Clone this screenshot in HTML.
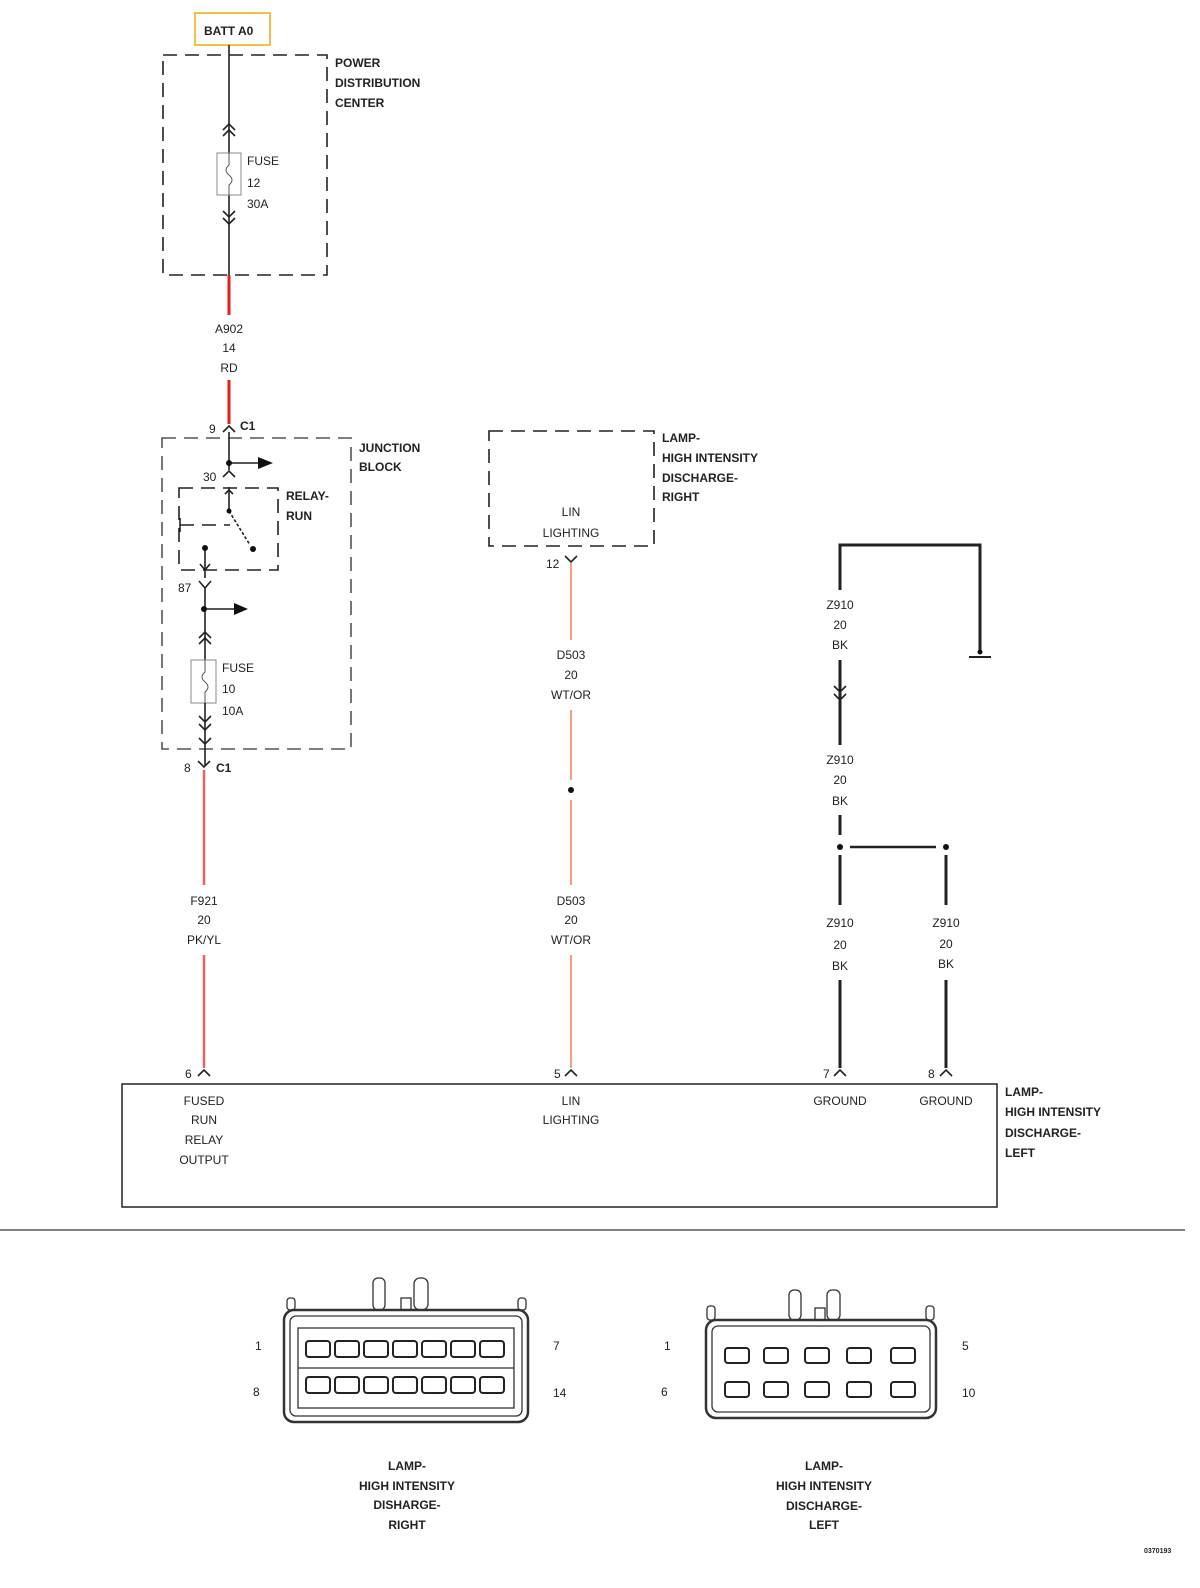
<!DOCTYPE html>
<html><head><meta charset="utf-8"><style>
body{margin:0;background:#fff}
svg{display:block}
text{font-family:"Liberation Sans",sans-serif;font-size:12px;fill:#222}
.b{font-weight:bold;font-size:12px}
.c{text-anchor:middle}
</style></head><body>
<svg width="1200" height="1588" viewBox="0 0 1200 1588" xmlns="http://www.w3.org/2000/svg">
<g fill="none" stroke="#222" stroke-width="1.6">
<!-- BATT -->
<rect x="195" y="13" width="75" height="32" stroke="#f2c04a" stroke-width="2"/>
<!-- PDC -->
<rect x="163" y="55" width="164" height="220" stroke-dasharray="14,8"/>
<line x1="229" y1="45" x2="229" y2="153"/>
<line x1="229" y1="195" x2="229" y2="275"/>
<polyline points="223,130 229,124 235,130"/><polyline points="223,136 229,130 235,136"/>
<polyline points="223,211 229,217 235,211"/><polyline points="223,218 229,224 235,218"/>
<rect x="217" y="153" width="24" height="42" stroke="#888" stroke-width="1"/>
<path d="M229 153 v12 q-6 5 0 10 q6 5 0 10 v10" stroke="#555" stroke-width="1"/>
<line x1="229" y1="275" x2="229" y2="315" stroke="#e02020" stroke-width="3"/>
<line x1="229" y1="380" x2="229" y2="424" stroke="#e02020" stroke-width="3"/>
<polyline points="223,432 229,426 235,432"/>
<!-- Junction block -->
<rect x="162" y="438" width="189" height="311" stroke="#555" stroke-dasharray="14,8"/>
<line x1="229" y1="432" x2="229" y2="470"/>
<polyline points="223,477 229,471 235,477"/>
<line x1="229" y1="463" x2="262" y2="463"/>
<rect x="179" y="488" width="99" height="82" stroke-dasharray="14,8"/>
<line x1="229" y1="487" x2="229" y2="511"/>
<polyline points="225,494 229,490 233,494"/>
<line x1="229" y1="511" x2="250" y2="545" stroke-dasharray="3,2"/>
<line x1="180" y1="525" x2="230" y2="525" stroke-dasharray="14,8"/>
<line x1="180" y1="518" x2="180" y2="532"/>
<line x1="205" y1="548" x2="205" y2="578"/>
<polyline points="200,564 205,570 210,564"/>
<polyline points="199,581 205,588 211,581"/>
<line x1="205" y1="588" x2="205" y2="660"/>
<line x1="205" y1="609" x2="238" y2="609"/>
<polyline points="199,638 205,632 211,638"/><polyline points="199,644 205,638 211,644"/>
<rect x="191" y="660" width="25" height="43" stroke="#888" stroke-width="1"/>
<path d="M205 660 v12 q-6 5 0 10 q6 5 0 10 v11" stroke="#555" stroke-width="1"/>
<line x1="205" y1="703" x2="205" y2="765"/>
<polyline points="199,716 205,722 211,716"/><polyline points="199,724 205,730 211,724"/><polyline points="199,738 205,744 211,738"/>
<polyline points="198,761 204,767 210,761"/>
<line x1="204" y1="770" x2="204" y2="885" stroke="#f06060" stroke-width="2.5"/>
<line x1="204" y1="955" x2="204" y2="1068" stroke="#f06060" stroke-width="2.5"/>
<polyline points="198,1076 204,1070 210,1076"/>
<!-- Lamp right -->
<rect x="489" y="431" width="165" height="115" stroke-dasharray="14,8"/>
<polyline points="565,556 571,562 577,556"/>
<line x1="571" y1="563" x2="571" y2="640" stroke="#f0a080" stroke-width="2"/>
<line x1="571" y1="710" x2="571" y2="780" stroke="#f0a080" stroke-width="2"/>
<line x1="571" y1="800" x2="571" y2="885" stroke="#f0a080" stroke-width="2"/>
<line x1="571" y1="955" x2="571" y2="1068" stroke="#f0a080" stroke-width="2"/>
<polyline points="565,1076 571,1070 577,1076"/>
<!-- grounds -->
<g stroke-width="3">
<polyline points="840,590 840,545 980,545 980,652"/>
<line x1="840" y1="660" x2="840" y2="745"/>
<line x1="840" y1="815" x2="840" y2="835"/>
<line x1="840" y1="855" x2="840" y2="905"/>
<line x1="840" y1="980" x2="840" y2="1068"/>
<line x1="946" y1="855" x2="946" y2="905"/>
<line x1="946" y1="980" x2="946" y2="1068"/>
</g>
<line x1="969" y1="657" x2="991" y2="657" stroke-width="2"/>
<polyline points="834,686 840,692 846,686"/><polyline points="834,694 840,700 846,694"/>
<line x1="850" y1="847" x2="936" y2="847" stroke-width="2.5"/>
<polyline points="834,1076 840,1070 846,1076"/>
<polyline points="940,1076 946,1070 952,1076"/>
<!-- bottom box -->
<rect x="122" y="1084" width="875" height="123" stroke-width="1.5"/>
<line x1="0" y1="1230" x2="1185" y2="1230" stroke="#555" stroke-width="1.5"/>
</g>
<g fill="#111">
<circle cx="229" cy="463" r="3"/><circle cx="253" cy="549" r="3"/><circle cx="229" cy="511" r="2.5"/>
<circle cx="205" cy="548" r="3"/><circle cx="204" cy="609" r="3"/>
<polygon points="258,457 273,463 258,469"/><polygon points="234,603 248,609 234,615"/>
<circle cx="571" cy="790" r="3"/><circle cx="840" cy="847" r="3"/><circle cx="946" cy="847" r="3"/>
<circle cx="980" cy="652" r="2.5"/>
</g>
<!-- connectors -->
<g fill="none" stroke="#333" stroke-width="1.3">
<rect x="284" y="1310" width="244" height="112" rx="10" stroke-width="2.5"/>
<rect x="290" y="1316" width="232" height="100" rx="6"/>
<rect x="298" y="1328" width="216" height="80"/>
<line x1="298" y1="1368" x2="514" y2="1368"/>
<rect x="373" y="1278" width="12" height="32" rx="5"/><rect x="414" y="1278" width="14" height="32" rx="6"/><rect x="401" y="1298" width="10" height="12"/>
<rect x="287" y="1298" width="8" height="12" rx="3"/><rect x="518" y="1298" width="8" height="12" rx="3"/>
<rect x="706" y="1320" width="230" height="98" rx="10" stroke-width="2.5"/>
<rect x="712" y="1326" width="218" height="86" rx="6"/>
<rect x="789" y="1290" width="12" height="30" rx="5"/><rect x="827" y="1290" width="13" height="30" rx="5"/><rect x="815" y="1308" width="10" height="12"/>
<rect x="707" y="1306" width="8" height="14" rx="3"/><rect x="926" y="1306" width="8" height="14" rx="3"/>
</g>
<g fill="#fff" stroke="#222" stroke-width="2">
<rect x="306" y="1341" width="24" height="16" rx="3"/><rect x="335" y="1341" width="24" height="16" rx="3"/><rect x="364" y="1341" width="24" height="16" rx="3"/><rect x="393" y="1341" width="24" height="16" rx="3"/><rect x="422" y="1341" width="24" height="16" rx="3"/><rect x="451" y="1341" width="24" height="16" rx="3"/><rect x="480" y="1341" width="24" height="16" rx="3"/>
<rect x="306" y="1377" width="24" height="16" rx="3"/><rect x="335" y="1377" width="24" height="16" rx="3"/><rect x="364" y="1377" width="24" height="16" rx="3"/><rect x="393" y="1377" width="24" height="16" rx="3"/><rect x="422" y="1377" width="24" height="16" rx="3"/><rect x="451" y="1377" width="24" height="16" rx="3"/><rect x="480" y="1377" width="24" height="16" rx="3"/>
<rect x="725" y="1348" width="24" height="15" rx="3"/><rect x="764" y="1348" width="24" height="15" rx="3"/><rect x="805" y="1348" width="24" height="15" rx="3"/><rect x="847" y="1348" width="24" height="15" rx="3"/><rect x="891" y="1348" width="24" height="15" rx="3"/>
<rect x="725" y="1382" width="24" height="15" rx="3"/><rect x="764" y="1382" width="24" height="15" rx="3"/><rect x="805" y="1382" width="24" height="15" rx="3"/><rect x="847" y="1382" width="24" height="15" rx="3"/><rect x="891" y="1382" width="24" height="15" rx="3"/>
</g>
<!-- texts -->
<text class="b" x="204" y="35">BATT A0</text>
<text class="b" x="335" y="67">POWER</text><text class="b" x="335" y="87">DISTRIBUTION</text><text class="b" x="335" y="107">CENTER</text>
<text x="247" y="165">FUSE</text><text x="247" y="187">12</text><text x="247" y="208">30A</text>
<text class="c" x="229" y="333">A902</text><text class="c" x="229" y="352">14</text><text class="c" x="229" y="372">RD</text>
<text x="209" y="433">9</text><text class="b" x="240" y="430">C1</text>
<text class="b" x="359" y="452">JUNCTION</text><text class="b" x="359" y="471">BLOCK</text>
<text x="203" y="481">30</text>
<text class="b" x="286" y="500">RELAY-</text><text class="b" x="286" y="520">RUN</text>
<text x="178" y="592">87</text>
<text x="222" y="672">FUSE</text><text x="222" y="693">10</text><text x="222" y="715">10A</text>
<text x="184" y="772">8</text><text class="b" x="216" y="772">C1</text>
<text class="c" x="204" y="905">F921</text><text class="c" x="204" y="924">20</text><text class="c" x="204" y="944">PK/YL</text>
<text class="b" x="662" y="442">LAMP-</text><text class="b" x="662" y="462">HIGH INTENSITY</text><text class="b" x="662" y="482">DISCHARGE-</text><text class="b" x="662" y="501">RIGHT</text>
<text class="c" x="571" y="516">LIN</text><text class="c" x="571" y="537">LIGHTING</text>
<text x="546" y="568">12</text>
<text class="c" x="571" y="659">D503</text><text class="c" x="571" y="679">20</text><text class="c" x="571" y="699">WT/OR</text>
<text class="c" x="571" y="905">D503</text><text class="c" x="571" y="924">20</text><text class="c" x="571" y="944">WT/OR</text>
<text class="c" x="840" y="609">Z910</text><text class="c" x="840" y="629">20</text><text class="c" x="840" y="649">BK</text>
<text class="c" x="840" y="764">Z910</text><text class="c" x="840" y="784">20</text><text class="c" x="840" y="805">BK</text>
<text class="c" x="840" y="927">Z910</text><text class="c" x="840" y="949">20</text><text class="c" x="840" y="970">BK</text>
<text class="c" x="946" y="927">Z910</text><text class="c" x="946" y="948">20</text><text class="c" x="946" y="968">BK</text>
<text x="185" y="1078">6</text><text x="554" y="1078">5</text><text x="823" y="1078">7</text><text x="928" y="1078">8</text>
<text class="c" x="204" y="1105">FUSED</text><text class="c" x="204" y="1124">RUN</text><text class="c" x="204" y="1144">RELAY</text><text class="c" x="204" y="1164">OUTPUT</text>
<text class="c" x="571" y="1105">LIN</text><text class="c" x="571" y="1124">LIGHTING</text>
<text class="c" x="840" y="1105">GROUND</text><text class="c" x="946" y="1105">GROUND</text>
<text class="b" x="1005" y="1096">LAMP-</text><text class="b" x="1005" y="1116">HIGH INTENSITY</text><text class="b" x="1005" y="1137">DISCHARGE-</text><text class="b" x="1005" y="1157">LEFT</text>
<text x="255" y="1350">1</text><text x="253" y="1396">8</text><text x="553" y="1350">7</text><text x="553" y="1397">14</text>
<text x="664" y="1350">1</text><text x="661" y="1396">6</text><text x="962" y="1350">5</text><text x="962" y="1397">10</text>
<text class="b c" x="407" y="1470">LAMP-</text><text class="b c" x="407" y="1490">HIGH INTENSITY</text><text class="b c" x="407" y="1509">DISHARGE-</text><text class="b c" x="407" y="1529">RIGHT</text>
<text class="b c" x="824" y="1470">LAMP-</text><text class="b c" x="824" y="1490">HIGH INTENSITY</text><text class="b c" x="824" y="1510">DISCHARGE-</text><text class="b c" x="824" y="1529">LEFT</text>
<text class="b" x="1144" y="1553" style="font-size:7px">0370193</text>
</svg>
</body></html>
